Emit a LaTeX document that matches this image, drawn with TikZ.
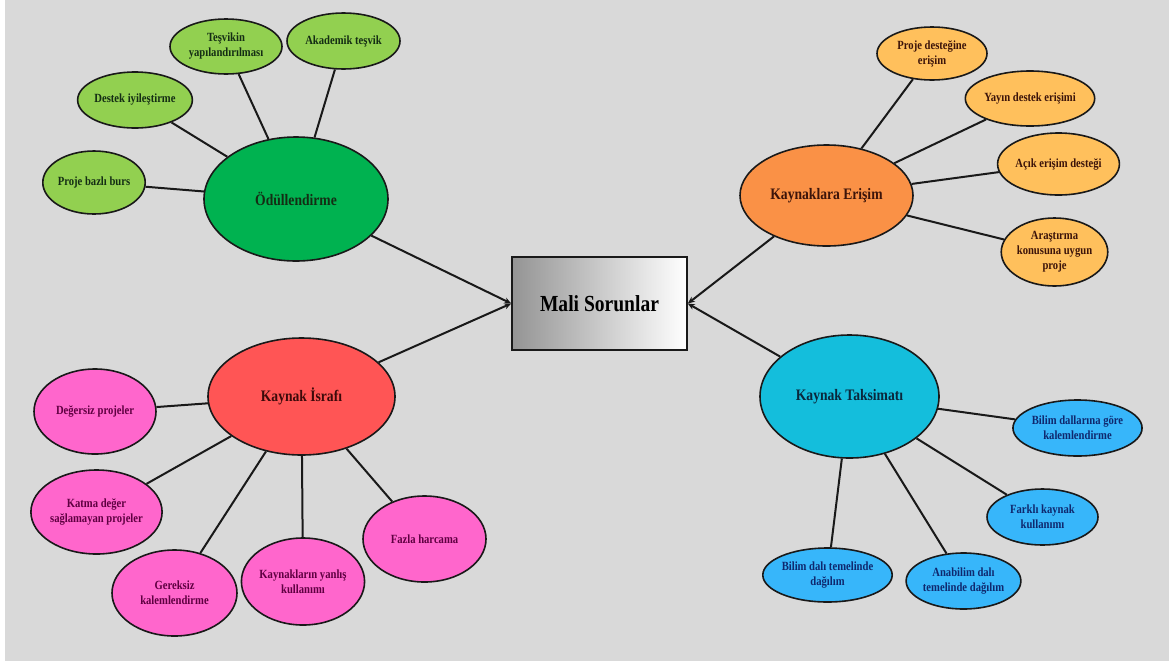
\documentclass[tikz,border=0pt]{standalone}
\usepackage{fontspec}
\setmainfont{Liberation Serif}[FakeStretch=0.85]
\usetikzlibrary{shapes.geometric,arrows.meta}
\definecolor{bg}{RGB}{217,217,217}
\definecolor{bigG}{RGB}{0,178,80}
\definecolor{smG}{RGB}{146,208,80}
\definecolor{bigO}{RGB}{250,145,70}
\definecolor{smO}{RGB}{255,192,92}
\definecolor{bigR}{RGB}{255,85,85}
\definecolor{smR}{RGB}{255,102,204}
\definecolor{bigB}{RGB}{20,190,220}
\definecolor{smB}{RGB}{55,182,250}
\definecolor{txG}{RGB}{20,45,20}
\definecolor{txO}{RGB}{60,20,10}
\definecolor{txR}{RGB}{95,0,65}
\definecolor{txB}{RGB}{15,40,110}
\definecolor{txBigB}{RGB}{10,40,60}
\definecolor{txBigR}{RGB}{60,10,10}
\definecolor{edge}{RGB}{25,25,25}
\begin{document}
\begin{tikzpicture}[x=1pt,y=-1pt,
  bub/.style={ellipse,draw=edge,line width=1.6pt,inner sep=0pt,align=center,font=\bfseries\fontsize{12.5}{15}\selectfont},
  big/.style={ellipse,draw=edge,line width=1.6pt,inner sep=0pt,align=center,font=\bfseries\fontsize{16}{19}\selectfont},
  link/.style={draw=edge,line width=2pt},
  arr/.style={draw=edge,line width=2pt,-{Stealth[length=7pt,width=6pt]}}]
\fill[white] (0,0) rectangle (1169,665);
\fill[bg] (5,0) rectangle (1169,661);
% center
\node[draw=edge,line width=1.6pt,left color=black!42,right color=white,minimum width=175,minimum height=93,inner sep=0pt,font=\bfseries\fontsize{23}{27}\selectfont] (box) at (599.5,303.5) {Mali Sorunlar};
% big ellipses
\node[big,fill=bigG,text=txG,minimum width=184,minimum height=124] (odul) at (296,199) {Ödüllendirme};
\node[big,fill=bigO,text=txO,minimum width=173,minimum height=101] (eris) at (826.5,195.5) {Kaynaklara Erişim};
\node[big,fill=bigR,text=txBigR,minimum width=187,minimum height=117] (isr) at (301.5,396.5) {Kaynak İsrafı};
\node[big,fill=bigB,text=txBigB,minimum width=179,minimum height=123] (taks) at (849.5,396.5) {Kaynak Taksimatı};
% green small
\node[bub,fill=smG,text=txG,minimum width=112,minimum height=55] (g1) at (226,46.5) {Teşvikin\\yapılandırılması};
\node[bub,fill=smG,text=txG,minimum width=113,minimum height=56] (g2) at (343.5,41) {Akademik teşvik};
\node[bub,fill=smG,text=txG,minimum width=113,minimum height=56] (g3) at (135,100) {Destek iyileştirme};
\node[bub,fill=smG,text=txG,minimum width=92,minimum height=63] (g4) at (94,182.5) {Proje bazlı burs};
% orange small
\node[bub,fill=smO,text=txO,minimum width=110,minimum height=53] (o1) at (932,53.5) {Proje desteğine\\erişim};
\node[bub,fill=smO,text=txO,minimum width=106,minimum height=55] (o2) at (1030,98.5) {Yayın destek erişimi};
\node[bub,fill=smO,text=txO,minimum width=105,minimum height=62] (o3) at (1058.5,164) {Açık erişim desteği};
\node[bub,fill=smO,text=txO,minimum width=95,minimum height=68] (o4) at (1054.5,252) {Araştırma\\konusuna uygun\\proje};
% pink small
\node[bub,fill=smR,text=txR,minimum width=122,minimum height=85] (r1) at (95,411.5) {Değersiz projeler};
\node[bub,fill=smR,text=txR,minimum width=125,minimum height=84] (r2) at (96.5,512) {Katma değer\\sağlamayan projeler};
\node[bub,fill=smR,text=txR,minimum width=125,minimum height=86] (r3) at (174.5,593) {Gereksiz\\kalemlendirme};
\node[bub,fill=smR,text=txR,minimum width=122,minimum height=87] (r4) at (303,581.5) {Kaynakların yanlış\\kullanımı};
\node[bub,fill=smR,text=txR,minimum width=123,minimum height=86] (r5) at (424.5,539) {Fazla harcama};
% blue small
\node[bub,fill=smB,text=txB,minimum width=111,minimum height=56] (b1) at (1077.5,428) {Bilim dallarına göre\\kalemlendirme};
\node[bub,fill=smB,text=txB,minimum width=111,minimum height=56] (b2) at (1042.5,517) {Farklı kaynak\\kullanımı};
\node[bub,fill=smB,text=txB,minimum width=127,minimum height=54] (b3) at (827.5,575) {Bilim dalı temelinde\\dağılım};
\node[bub,fill=smB,text=txB,minimum width=111,minimum height=56] (b4) at (963.5,581) {Anabilim dalı\\temelinde dağılım};
% links
\foreach \n in {g1,g2,g3,g4} \path[link] (\n) -- (odul);
\foreach \n in {o1,o2,o3,o4} \path[link] (\n) -- (eris);
\foreach \n in {r1,r2,r3,r4,r5} \path[link] (\n) -- (isr);
\foreach \n in {b1,b2,b3,b4} \path[link] (\n) -- (taks);
\path[arr] (odul) -- (box.west);
\path[arr] (isr) -- (box.west);
\path[arr] (eris) -- (box.east);
\path[arr] (taks) -- (box.east);
\end{tikzpicture}
\end{document}
